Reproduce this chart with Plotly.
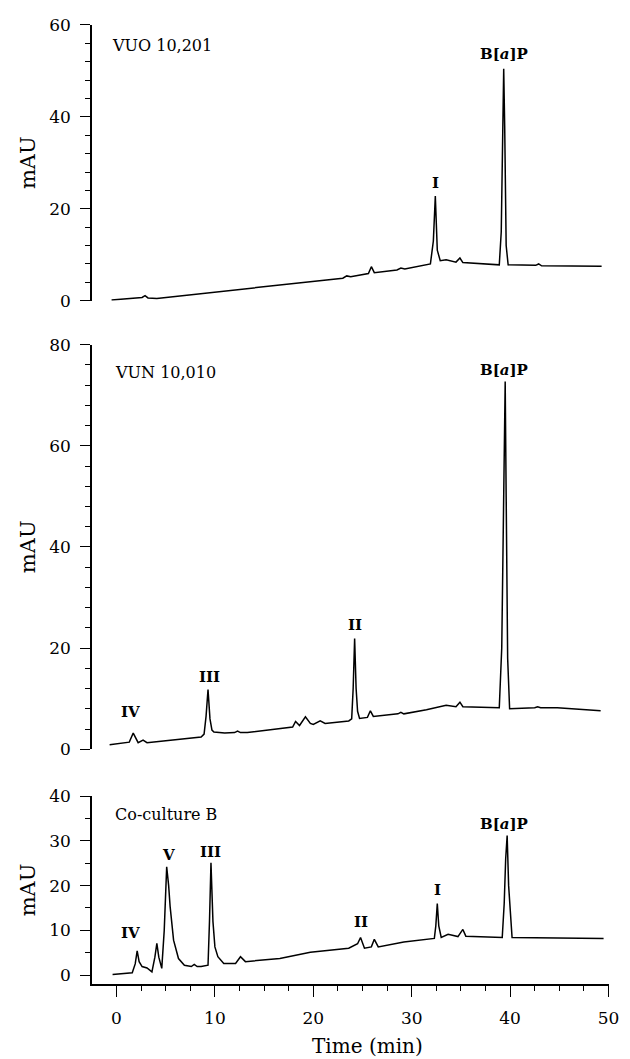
import plotly.graph_objects as go

# Retention time (min) and absorbance (mAU) for each chromatogram
vuo_time = [-0.5, 2.6, 2.9, 3.2, 4.1, 8.0, 12.0, 16.0, 20.0, 23.0, 23.4, 23.8,
            25.6, 25.9, 26.2, 28.5, 28.9, 29.3, 31.9, 32.2, 32.4, 32.6, 32.9,
            33.5, 34.5, 34.9, 35.2, 38.9, 39.1, 39.25, 39.35, 39.45, 39.6, 39.8,
            42.6, 42.9, 43.2, 49.3]
vuo_mau = [0.15, 0.7, 1.1, 0.6, 0.5, 1.4, 2.3, 3.2, 4.1, 4.9, 5.4, 5.2,
           5.9, 7.4, 6.1, 6.7, 7.1, 6.9, 8.0, 13.0, 22.8, 11.0, 8.7,
           8.9, 8.4, 9.3, 8.3, 7.8, 15.0, 38.0, 50.5, 38.0, 12.0, 7.8,
           7.7, 8.0, 7.6, 7.5]

vun_time = [-0.7, 1.3, 1.7, 2.0, 2.2, 2.7, 3.1, 5.0, 7.6, 8.6, 8.9, 9.1, 9.3,
            9.5, 9.7, 9.9, 11.0, 12.0, 12.3, 12.6, 13.3, 16.0, 17.9, 18.2,
            18.6, 19.2, 19.7, 20.0, 20.7, 21.2, 23.6, 23.9, 24.05, 24.2, 24.35,
            24.5, 24.7, 25.5, 25.8, 26.1, 28.6, 28.9, 29.2, 31.5, 33.5, 34.5,
            34.9, 35.2, 38.9, 39.15, 39.35, 39.5, 39.6, 39.75, 39.95, 42.5,
            42.8, 43.1, 44.8, 49.2]
vun_mau = [0.9, 1.4, 3.2, 1.9, 1.3, 1.8, 1.3, 1.7, 2.3, 2.4, 3.0, 6.5, 11.8,
           6.0, 3.8, 3.4, 3.2, 3.3, 3.6, 3.3, 3.3, 3.9, 4.4, 5.5,
           4.7, 6.4, 5.1, 4.9, 5.6, 5.1, 5.6, 6.0, 12.0, 21.9, 12.0,
           7.5, 6.1, 6.3, 7.6, 6.5, 7.0, 7.3, 7.0, 7.8, 8.7, 8.4,
           9.3, 8.4, 8.2, 20.0, 50.0, 72.7, 50.0, 18.0, 8.0, 8.2,
           8.4, 8.2, 8.2, 7.6]

cocul_time = [-0.4, 1.6, 1.9, 2.1, 2.3, 2.6, 3.1, 3.6, 3.9, 4.1, 4.3, 4.6,
              4.85, 5.1, 5.3, 5.45, 5.8, 6.3, 6.9, 7.6, 7.9, 8.2, 8.6, 9.3,
              9.45, 9.6, 9.8, 10.0, 10.3, 10.9, 12.1, 12.6, 13.1, 16.6, 19.7,
              23.6, 24.5, 24.8, 25.2, 25.9, 26.2, 26.6, 29.2, 32.3, 32.45,
              32.6, 32.75, 33.0, 33.7, 34.7, 35.2, 35.5, 39.2, 39.4, 39.55,
              39.7, 39.85, 40.2, 49.5]
cocul_mau = [0.15, 0.5, 2.5, 5.4, 3.0, 1.9, 1.6, 0.7, 4.0, 7.1, 4.0, 1.5,
             10.0, 24.2, 20.0, 15.3, 7.8, 3.7, 2.2, 1.9, 2.4, 1.9, 1.9, 2.2,
             12.0, 25.1, 12.0, 6.3, 4.1, 2.6, 2.6, 4.1, 3.0, 3.7, 5.1,
             6.0, 7.0, 8.4, 6.0, 6.3, 8.0, 6.3, 7.4, 8.2, 11.0,
             16.0, 11.0, 8.4, 9.1, 8.6, 10.2, 8.7, 8.4, 16.0, 26.0,
             31.2, 20.0, 8.4, 8.2]

panel_names = ["VUO 10,201", "VUN 10,010", "Co-culture B"]

# Peak labels: (panel, label, retention time, peak height, dx px, dy px)
peak_labels = [
    (0, "I", 32.4, 22.8, 0, 13),
    (0, "B[a]P", 39.35, 50.5, 0, 15),
    (1, "IV", 1.7, 3.2, -3, 21),
    (1, "III", 9.3, 11.8, 1, 13),
    (1, "II", 24.2, 21.9, 0, 13),
    (1, "B[a]P", 39.5, 72.7, -1, 12),
    (2, "IV", 2.1, 5.4, -7, 18),
    (2, "V", 5.1, 24.2, 2, 12),
    (2, "III", 9.6, 25.1, 0, 11),
    (2, "II", 24.8, 8.4, 0, 15),
    (2, "I", 32.6, 16.0, 0, 14),
    (2, "B[a]P", 39.7, 31.2, -3, 12),
]

x_ticks = [0, 10, 20, 30, 40, 50]

FONT = "DejaVu Serif"
W, H = 630, 1059
ML, MR, MT, MB = 92, 11, 20, 75
PH = H - MT - MB


def dom(top_px, bottom_px):
    return [(H - MB - bottom_px) / PH, (H - MB - top_px) / PH]


fig = go.Figure()
line = dict(color="black", width=1.5)
fig.add_trace(go.Scatter(x=vuo_time, y=vuo_mau, mode="lines", line=line,
                         xaxis="x2", yaxis="y", showlegend=False))
fig.add_trace(go.Scatter(x=vun_time, y=vun_mau, mode="lines", line=line,
                         xaxis="x3", yaxis="y2", showlegend=False))
fig.add_trace(go.Scatter(x=cocul_time, y=cocul_mau, mode="lines", line=line,
                         xaxis="x", yaxis="y3", showlegend=False))

tickfont = dict(family=FONT, size=17, color="black")


def yax(domain, rng, dtick, minor_dtick, anchor):
    return dict(domain=domain, range=rng, anchor=anchor, dtick=dtick, tick0=0,
                showline=True, linecolor="black", linewidth=1.5,
                ticks="outside", ticklen=10, tickwidth=1.3, tickcolor="black",
                ticklabelstandoff=6,
                minor=dict(ticks="outside", ticklen=5, dtick=minor_dtick,
                           tick0=0, tickcolor="black", tickwidth=1.2),
                showgrid=False, zeroline=False, tickfont=tickfont,
                fixedrange=True)


fig.update_layout(
    width=W, height=H,
    margin=dict(l=ML, r=MR, t=MT, b=MB),
    paper_bgcolor="white", plot_bgcolor="white",
    xaxis=dict(domain=[0, 1], range=[-2.49, 50.05], anchor="y3",
               tickvals=x_ticks, showline=True, linecolor="black",
               linewidth=1.5, ticks="outside", ticklen=11, tickwidth=1.3,
               tickcolor="black", ticklabelstandoff=7,
               minor=dict(ticks="outside", ticklen=5, dtick=2.5, tick0=0,
                          tickcolor="black", tickwidth=1.2),
               showgrid=False, zeroline=False, tickfont=tickfont),
    xaxis2=dict(matches="x", anchor="y", visible=False, domain=[0, 1]),
    xaxis3=dict(matches="x", anchor="y2", visible=False, domain=[0, 1]),
    yaxis=yax(dom(24, 300), [0, 60], 20, 4, "x2"),
    yaxis2=yax(dom(344, 749), [0, 80], 20, 4, "x3"),
    yaxis3=yax(dom(796, 984), [-2.0, 40], 10, 5, "x"),
)

yrefs = ["y", "y2", "y3"]
xrefs = ["x2", "x3", "x"]
name_pos = [(-0.7, 55.5), (-0.4, 74.5), (-0.4, 36.0)]
centers_px = [162, 546.5, 890]

annotations = []
for i, name in enumerate(panel_names):
    annotations.append(dict(text=name, x=name_pos[i][0], y=name_pos[i][1],
                            xref=xrefs[i], yref=yrefs[i], xanchor="left",
                            yanchor="middle", showarrow=False,
                            font=dict(family=FONT, size=16, color="black")))
    annotations.append(dict(text="mAU", x=(27 - ML) / (W - ML - MR),
                            y=(H - MB - centers_px[i]) / PH,
                            xref="paper", yref="paper", textangle=-90,
                            xanchor="center", yanchor="middle",
                            showarrow=False,
                            font=dict(family=FONT, size=21, color="black")))

for p, lab, t, h, dx, dy in peak_labels:
    txt = "<b>B[<i>a</i>]P</b>" if lab == "B[a]P" else f"<b>{lab}</b>"
    annotations.append(dict(text=txt, x=t, y=h, xref=xrefs[p], yref=yrefs[p],
                            xanchor="center", yanchor="middle",
                            xshift=dx, yshift=dy, showarrow=False,
                            font=dict(family=FONT, size=15, color="black")))

annotations.append(dict(text="Time (min)", x=25.5, y=(984 - 1046) / PH,
                        xref="x", yref="paper", xanchor="center",
                        yanchor="middle", showarrow=False,
                        font=dict(family=FONT, size=20, color="black")))

fig.update_layout(annotations=annotations)
fig.write_html("out.html")
